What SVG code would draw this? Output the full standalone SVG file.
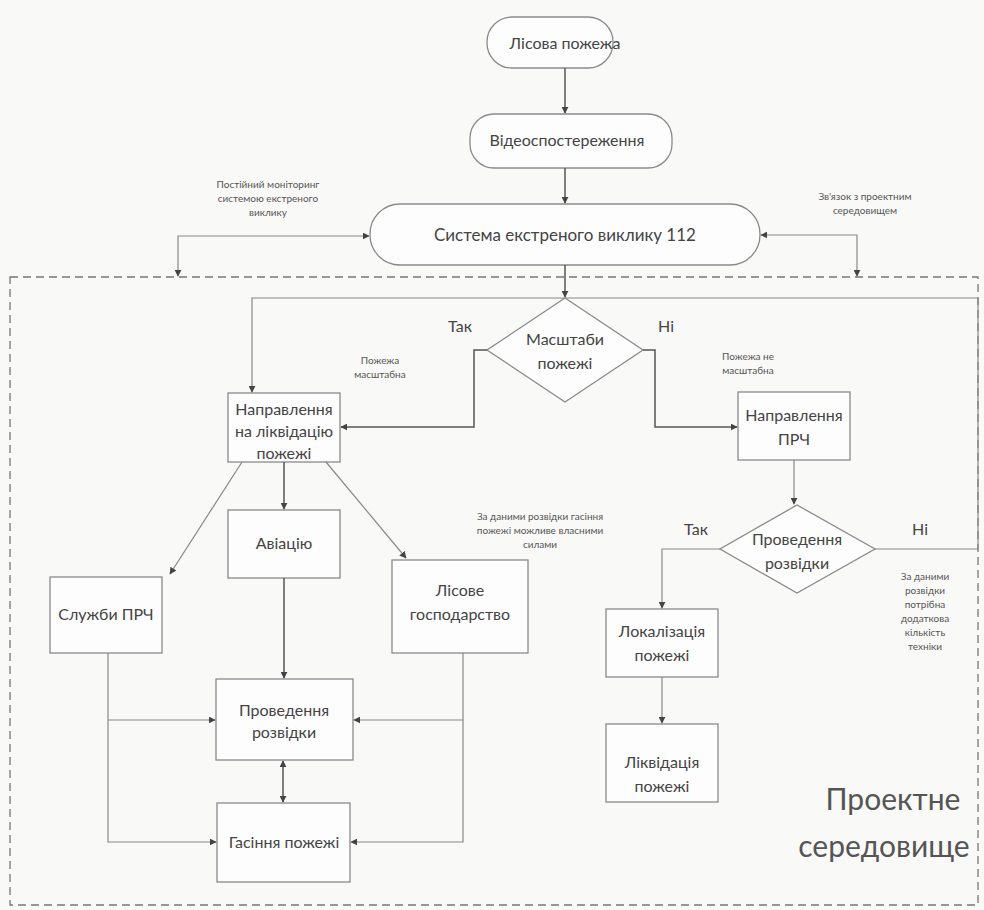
<svg xmlns="http://www.w3.org/2000/svg" width="984" height="910" viewBox="0 0 984 910">
<style>
.bg{fill:#f9f9f8}
.node{fill:#fdfdfd;stroke:#8a8a8a;stroke-width:1.3}
.t{font-family:Lato,"Liberation Sans",sans-serif;font-size:16px;fill:#444;text-anchor:middle}
.s{font-family:Lato,"Liberation Sans",sans-serif;font-size:10px;fill:#555;text-anchor:middle}
.big{font-family:Lato,"Liberation Sans",sans-serif;font-size:30px;fill:#555;text-anchor:middle}
.c{fill:none;stroke:#555;stroke-width:1.5}
.ct{fill:none;stroke:#888;stroke-width:1.2}
.dash{fill:none;stroke:#777;stroke-width:1.3;stroke-dasharray:8 5}
</style>
<defs>
<marker id="a" viewBox="0 0 10 10" refX="9" refY="5" markerWidth="7" markerHeight="7" orient="auto-start-reverse" markerUnits="userSpaceOnUse">
<path d="M0,0 L10,5 L0,10 z" fill="#444"/>
</marker>
</defs>
<rect class="bg" x="0" y="0" width="984" height="910"/>
<rect class="dash" x="10" y="277" width="968" height="628"/>

<g id="n1"><rect class="node" x="487" y="17" width="126" height="51" rx="25"/><text class="t" x="565" y="49">Лісова пожежа</text></g>
<g id="n2"><rect class="node" x="470" y="114" width="202" height="54" rx="24"/><text class="t" x="567" y="146">Відеоспостереження</text></g>
<g id="n3"><rect class="node" x="370" y="204" width="390" height="61" rx="30"/><text class="t" x="565" y="241" style="font-size:17px">Система екстреного виклику 112</text></g>
<g id="n4"><polygon class="node" points="565,298 643,350 565,402 487,350"/><text class="t" x="565" y="345">Масштаби</text><text class="t" x="565" y="369">пожежі</text></g>
<g id="n5"><rect class="node" x="228" y="393" width="112" height="69"/><text class="t" x="284" y="415">Направлення</text><text class="t" x="284" y="437">на ліквідацію</text><text class="t" x="284" y="459">пожежі</text></g>
<g id="n6"><rect class="node" x="738" y="392" width="112" height="68"/><text class="t" x="794" y="421">Направлення</text><text class="t" x="794" y="445">ПРЧ</text></g>
<g id="n7"><polygon class="node" points="797,505 875,549 797,593 720,549"/><text class="t" x="797" y="545">Проведення</text><text class="t" x="797" y="569">розвідки</text></g>
<g id="n8"><rect class="node" x="228" y="510" width="112" height="68"/><text class="t" x="284" y="549">Авіацію</text></g>
<g id="n9"><rect class="node" x="50" y="577" width="112" height="76"/><text class="t" x="106" y="620">Служби ПРЧ</text></g>
<g id="n10"><rect class="node" x="392" y="560" width="136" height="93"/><text class="t" x="460" y="596">Лісове</text><text class="t" x="460" y="620">господарство</text></g>
<g id="n11"><rect class="node" x="606" y="609" width="112" height="68"/><text class="t" x="662" y="637">Локалізація</text><text class="t" x="662" y="661">пожежі</text></g>
<g id="n12"><rect class="node" x="606" y="724" width="112" height="78"/><text class="t" x="662" y="768">Ліквідація</text><text class="t" x="662" y="792">пожежі</text></g>
<g id="n13"><rect class="node" x="216" y="679" width="137" height="81"/><text class="t" x="284" y="716">Проведення</text><text class="t" x="284" y="738">розвідки</text></g>
<g id="n14"><rect class="node" x="217" y="803" width="133" height="79"/><text class="t" x="284" y="848">Гасіння пожежі</text></g>

<g id="connectors">
<path class="c" d="M565,68 V113" marker-end="url(#a)"/>
<path class="c" d="M565,168 V203" marker-end="url(#a)"/>
<path class="c" d="M565,265 V297" marker-end="url(#a)"/>
<path class="ct" d="M178,276 V236 H369" marker-start="url(#a)" marker-end="url(#a)"/>
<path class="ct" d="M857,276 V235 H761" marker-start="url(#a)" marker-end="url(#a)"/>
<path class="c" d="M487,350 H474 V427 H341" marker-end="url(#a)"/>
<path class="c" d="M643,350 H655 V427 H737" marker-end="url(#a)"/>
<path class="ct" d="M875,549 H978 V298 H252 V392" marker-end="url(#a)"/>
<path class="ct" d="M794,460 V504" marker-end="url(#a)"/>
<path class="ct" d="M720,549 H662 V608" marker-end="url(#a)"/>
<path class="ct" d="M662,677 V723" marker-end="url(#a)"/>
<path class="ct" d="M242,462 L170,574" marker-end="url(#a)"/>
<path class="c" d="M284,462 V509" marker-end="url(#a)"/>
<path class="ct" d="M326,462 L406,558" marker-end="url(#a)"/>
<path class="c" d="M284,578 V678" marker-end="url(#a)"/>
<path class="c" d="M283,761 V802" marker-start="url(#a)" marker-end="url(#a)"/>
<path class="ct" d="M108,653 V842 H216" marker-end="url(#a)"/>
<path class="ct" d="M108,720 H215" marker-end="url(#a)"/>
<path class="ct" d="M463,653 V842 H351" marker-end="url(#a)"/>
<path class="ct" d="M463,720 H354" marker-end="url(#a)"/>
</g>

<g id="labels">
<text class="t" x="460" y="332">Так</text>
<text class="t" x="666" y="332">Ні</text>
<text class="t" x="696" y="535">Так</text>
<text class="t" x="920" y="535">Ні</text>
<text class="s" x="380" y="364">Пожежа</text>
<text class="s" x="380" y="378">масштабна</text>
<text class="s" x="748" y="360">Пожежа не</text>
<text class="s" x="748" y="374">масштабна</text>
<text class="s" x="268" y="188">Постійний моніторинг</text>
<text class="s" x="268" y="202">системою екстреного</text>
<text class="s" x="268" y="216">виклику</text>
<text class="s" x="865" y="200">Зв'язок з проектним</text>
<text class="s" x="865" y="214">середовищем</text>
<text class="s" x="540" y="520">За даними розвідки гасіння</text>
<text class="s" x="540" y="534">пожежі можливе власними</text>
<text class="s" x="540" y="548">силами</text>
<text class="s" x="925" y="580">За даними</text>
<text class="s" x="925" y="594">розвідки</text>
<text class="s" x="925" y="608">потрібна</text>
<text class="s" x="925" y="622">додаткова</text>
<text class="s" x="925" y="636">кількість</text>
<text class="s" x="925" y="650">техніки</text>
<text class="big" x="893" y="810">Проектне</text>
<text class="big" x="884" y="857">середовище</text>
</g>
</svg>
